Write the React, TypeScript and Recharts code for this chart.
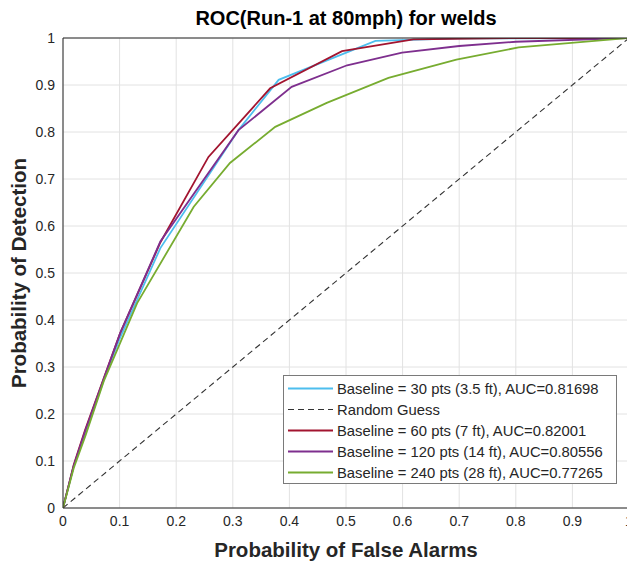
import React from 'react';
import { LineChart, Line, XAxis, YAxis, CartesianGrid, Legend } from 'recharts';

const axisTicks = [0, 0.1, 0.2, 0.3, 0.4, 0.5, 0.6, 0.7, 0.8, 0.9, 1];
const tickLabels = ['0', '0.1', '0.2', '0.3', '0.4', '0.5', '0.6', '0.7', '0.8', '0.9', '1'];

const pfa30 = [0, 0.019, 0.04, 0.072, 0.1, 0.172, 0.31, 0.381, 0.552, 0.7, 1];
const pd30 = [0, 0.09, 0.16, 0.272, 0.36, 0.553, 0.804, 0.911, 0.994, 0.999, 1];

const pfaRandom = [0, 1];
const pdRandom = [0, 1];

const pfa60 = [0, 0.019, 0.039, 0.072, 0.101, 0.172, 0.257, 0.366, 0.493, 0.619, 0.8, 1];
const pd60 = [0, 0.092, 0.166, 0.276, 0.372, 0.565, 0.747, 0.893, 0.972, 0.997, 1, 1];

const pfa120 = [0, 0.019, 0.039, 0.072, 0.101, 0.172, 0.31, 0.404, 0.502, 0.599, 0.7, 0.8, 1];
const pd120 = [0, 0.09, 0.163, 0.275, 0.372, 0.567, 0.804, 0.896, 0.942, 0.969, 0.983, 0.992, 1];

const pfa240 = [0, 0.019, 0.04, 0.072, 0.098, 0.131, 0.231, 0.295, 0.375, 0.466, 0.575, 0.695, 0.805, 1];
const pd240 = [0, 0.085, 0.155, 0.27, 0.343, 0.436, 0.641, 0.734, 0.811, 0.862, 0.915, 0.954, 0.98, 1];

const seriesNames = [
  'Baseline = 30 pts (3.5 ft), AUC=0.81698',
  'Random Guess',
  'Baseline = 60 pts (7 ft), AUC=0.82001',
  'Baseline = 120 pts (14 ft), AUC=0.80556',
  'Baseline = 240 pts (28 ft), AUC=0.77265',
];
const seriesColors = ['#4DBEEE', '#333333', '#A2142F', '#7E2F8E', '#77AC30'];
const seriesDash = [undefined, '6 4', undefined, undefined, undefined];

const toPoints = (xs: number[], ys: number[]) => xs.map((x, i) => ({ x, y: ys[i] }));

const seriesData = [
  toPoints(pfa30, pd30),
  toPoints(pfaRandom, pdRandom),
  toPoints(pfa60, pd60),
  toPoints(pfa120, pd120),
  toPoints(pfa240, pd240),
];

const FONT = 'Arial, "Liberation Sans", Helvetica, sans-serif';
const AX = '#262626';
const fmt = (v: number) => {
  const i = axisTicks.findIndex((t) => Math.abs(t - v) < 1e-9);
  return i >= 0 ? tickLabels[i] : String(v);
};

const LegendBox = () => (
  <div
    style={{
      width: 334,
      height: 109,
      border: '1px solid #7a7a7a',
      background: '#fff',
      boxSizing: 'border-box',
      paddingTop: 2,
      fontFamily: FONT,
      fontSize: 14.8,
      color: AX,
      textAlign: 'left',
    }}
  >
    {seriesNames.map((name, i) => (
      <div key={name} style={{ height: 21, display: 'flex', alignItems: 'center', whiteSpace: 'nowrap' }}>
        <svg width={50} height={21} style={{ flex: 'none' }}>
          <line
            x1={4}
            x2={49}
            y1={10.5}
            y2={10.5}
            stroke={seriesColors[i]}
            strokeWidth={i === 1 ? 1.2 : 2}
            strokeDasharray={seriesDash[i]}
          />
        </svg>
        <span style={{ marginLeft: 3 }}>{name}</span>
      </div>
    ))}
  </div>
);

export default function App() {
  return (
    <div
      style={{
        position: 'fixed',
        left: 0,
        top: 0,
        width: 627,
        height: 566,
        overflow: 'hidden',
        background: '#fff',
        fontFamily: FONT,
      }}
    >
      <LineChart
        width={640}
        height={566}
        margin={{ top: 38, right: 11, bottom: 28, left: 0 }}
        style={{ fontFamily: FONT }}
      >
        <CartesianGrid stroke="#e2e2e2" strokeWidth={1} />
        <XAxis
          dataKey="x"
          type="number"
          domain={[0, 1]}
          ticks={axisTicks}
          interval={0}
          allowDataOverflow
          tickFormatter={fmt}
          tickLine={false}
          tickSize={0}
          tickMargin={8}
          height={30}
          axisLine={{ stroke: AX }}
          tick={{ fill: AX, fontSize: 14 }}
        />
        <XAxis
          xAxisId="bm"
          type="number"
          domain={[0, 1]}
          ticks={axisTicks}
          interval={0}
          allowDataOverflow
          orientation="bottom"
          mirror
          tick={false}
          tickSize={5}
          axisLine={false}
          tickLine={{ stroke: AX }}
        />
        <XAxis
          xAxisId="top"
          type="number"
          domain={[0, 1]}
          ticks={axisTicks}
          interval={0}
          allowDataOverflow
          orientation="top"
          mirror
          tick={false}
          tickSize={5}
          axisLine={{ stroke: AX }}
          tickLine={{ stroke: AX }}
        />
        <YAxis
          type="number"
          domain={[0, 1]}
          ticks={axisTicks}
          interval={0}
          allowDataOverflow
          tickFormatter={fmt}
          tickLine={false}
          tickSize={0}
          tickMargin={8}
          width={63}
          axisLine={{ stroke: AX }}
          tick={{ fill: AX, fontSize: 14 }}
        />
        <YAxis
          yAxisId="lm"
          type="number"
          domain={[0, 1]}
          ticks={axisTicks}
          interval={0}
          allowDataOverflow
          orientation="left"
          mirror
          tick={false}
          tickSize={5}
          axisLine={false}
          tickLine={{ stroke: AX }}
        />
        <YAxis
          yAxisId="right"
          type="number"
          domain={[0, 1]}
          ticks={axisTicks}
          interval={0}
          allowDataOverflow
          orientation="right"
          mirror
          tick={false}
          tickSize={5}
          axisLine={{ stroke: AX }}
          tickLine={{ stroke: AX }}
        />
        {seriesData.map((d, i) => (
          <Line
            key={seriesNames[i]}
            data={d}
            dataKey="y"
            name={seriesNames[i]}
            type="linear"
            stroke={seriesColors[i]}
            strokeWidth={i === 1 ? 1.1 : 1.8}
            strokeDasharray={seriesDash[i]}
            dot={false}
            activeDot={false}
            isAnimationActive={false}
          />
        ))}
        <Legend
          layout="horizontal"
          verticalAlign="middle"
          align="center"
          wrapperStyle={{ position: 'absolute', left: 283, top: 375, width: 334, height: 109 }}
          content={() => <LegendBox />}
        />
      </LineChart>
      <div
        style={{
          position: 'absolute',
          left: 0,
          width: 692,
          top: 7,
          textAlign: 'center',
          fontWeight: 'bold',
          fontSize: 20,
          lineHeight: '22px',
          color: '#000',
          whiteSpace: 'nowrap',
        }}
      >
        ROC(Run-1 at 80mph) for welds
      </div>
      <div
        style={{
          position: 'absolute',
          left: 0,
          width: 692,
          top: 538,
          textAlign: 'center',
          fontWeight: 'bold',
          fontSize: 20.5,
          lineHeight: '24px',
          color: AX,
          whiteSpace: 'nowrap',
        }}
      >
        Probability of False Alarms
      </div>
      <div
        style={{
          position: 'absolute',
          left: 19,
          top: 273,
          transform: 'translate(-50%, -50%) rotate(-90deg)',
          fontWeight: 'bold',
          fontSize: 20.5,
          lineHeight: '24px',
          color: AX,
          whiteSpace: 'nowrap',
        }}
      >
        Probability of Detection
      </div>
    </div>
  );
}
